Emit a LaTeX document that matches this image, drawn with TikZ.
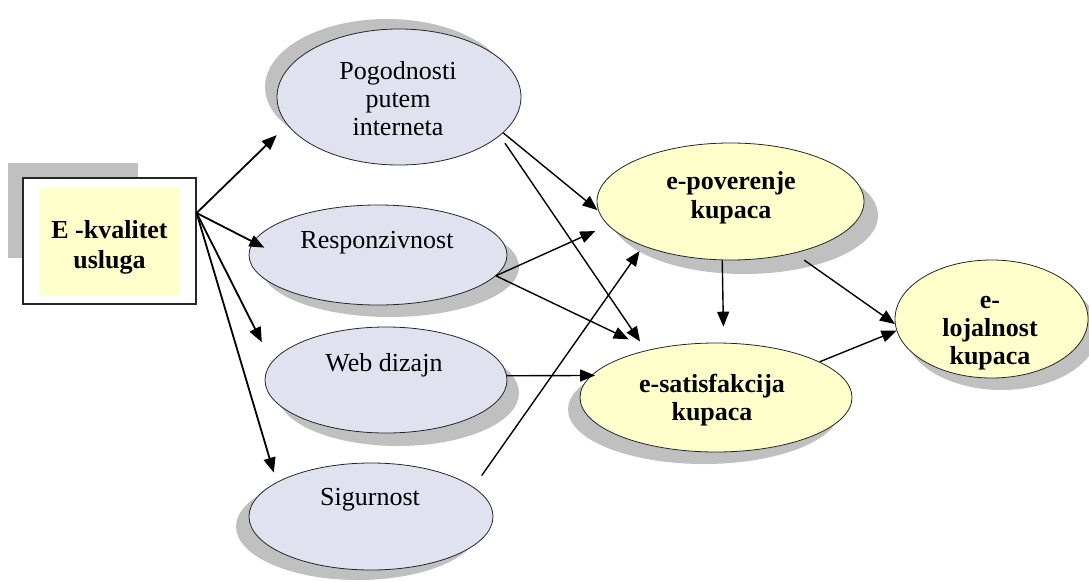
\documentclass[tikz,border=0pt]{standalone}
\usepackage{fontspec}
\setmainfont{Liberation Serif}
\usetikzlibrary{shapes.geometric,arrows.meta,shadows}
\definecolor{lav}{HTML}{E0E2F0}
\definecolor{pale}{HTML}{FFFFCC}
\definecolor{shade}{HTML}{C0C0C0}
\newcommand{\txtlines}[1]{\begin{tabular}[t]{@{}c@{}}#1\end{tabular}}
\tikzset{
  bubble/.style={ellipse, draw=black!85, line width=0.8pt, inner sep=0pt},
  cool/.style={bubble, fill=lav},
  warm/.style={bubble, fill=pale},
  lbl/.style={anchor=base, inner sep=0pt, font=\fontsize{26}{28}\selectfont},
  blbl/.style={anchor=base, inner sep=0pt, font=\fontsize{26}{29}\selectfont\bfseries},
  arrw/.style={-{Triangle[length=15pt,width=12pt]}, line width=1.4pt},
  fan/.style={arrw, line width=1.8pt},
}
\begin{document}
\begin{tikzpicture}[x=1pt,y=-1pt]
\useasboundingbox (0,0) rectangle (1089,581);

% source box with its offset grey backing
\node[fill=shade, minimum width=130pt, minimum height=95pt, inner sep=0pt] (boxback) at (73,210.5) {};
\node[draw=black!85, line width=1.2pt, fill=white, minimum width=173pt, minimum height=126pt, inner sep=0pt] (box) at (109.5,241) {};
\node[fill=pale, minimum width=141pt, minimum height=107pt, inner sep=0pt] (boxfill) at (109.5,241.5) {};
\node[blbl, font=\fontsize{26}{30}\selectfont\bfseries] (boxT) at (109.5,238) {\txtlines{E -kvalitet\\usluga}};
\coordinate (hub) at ([yshift=28pt]box.east);

% dimensions of service quality
\node[cool, minimum width=244pt, minimum height=136pt,
      drop shadow={shadow xshift=-12pt, shadow yshift=10pt, fill=shade, opacity=1}] (pog) at (399,97) {};
\node[cool, minimum width=258pt, minimum height=100pt,
      drop shadow={shadow xshift=12pt, shadow yshift=-12pt, fill=shade, opacity=1}] (resp) at (378,255) {};
\node[cool, minimum width=242pt, minimum height=106pt,
      drop shadow={shadow xshift=12pt, shadow yshift=-13pt, fill=shade, opacity=1}] (web) at (386,380) {};
\node[cool, minimum width=244pt, minimum height=107pt,
      drop shadow={shadow xshift=-13pt, shadow yshift=-10pt, fill=shade, opacity=1}] (sig) at (371,516.5) {};

% customer outcomes
\node[warm, minimum width=267pt, minimum height=117pt,
      drop shadow={shadow xshift=14pt, shadow yshift=-14pt, fill=shade, opacity=1}] (pov) at (730.5,201.5) {};
\node[warm, minimum width=272pt, minimum height=109pt,
      drop shadow={shadow xshift=-12pt, shadow yshift=-12pt, fill=shade, opacity=1}] (sat) at (716,397.5) {};
\node[warm, minimum width=193pt, minimum height=118pt,
      drop shadow={shadow xshift=10pt, shadow yshift=-12pt, fill=shade, opacity=1}] (loy) at (991.5,319) {};

% labels
\node[lbl] (pogT) at (398,79) {\txtlines{Pogodnosti\\putem\\interneta}};
\node[lbl] (respT) at (377,248) {Responzivnost};
\node[lbl] (webT) at (384,371) {Web dizajn};
\node[lbl] (sigT) at (370,505) {Sigurnost};
\node[blbl] (povT) at (731,189) {\txtlines{e-poverenje\\kupaca}};
\node[blbl, font=\fontsize{26}{28}\selectfont\bfseries] (satT) at (712,392) {\txtlines{e-satisfakcija\\kupaca}};
\node[blbl, font=\fontsize{26}{28}\selectfont\bfseries] (loyT) at (990,308) {\txtlines{e-\\lojalnost\\kupaca}};

% fan-out from the source box
\draw[fan, shorten >=14.7pt] (hub) -- (pog.194);
\draw[fan, shorten >=-12.7pt] (hub) -- (resp.174.6);
\draw[fan, shorten >=22pt] (hub) -- (web.171.3);
\draw[fan, shorten >=10pt] (hub) -- (sig.160.3);

% dimensions to trust and satisfaction
\draw[arrw, shorten >=1pt] (pog.-19) -- (pov.184.5);
\draw[arrw, shorten <=9pt, shorten >=10.6pt] (pog.-21) -- (sat.146.3);
\draw[arrw, shorten >=14pt] (resp.-10.8) -- (pov.191.7);
\draw[arrw, shorten >=23.5pt] (resp.-10.8) -- (sat.144.5);
\draw[arrw, shorten >=-4pt] (web.2) -- (sat.170.8);
\draw[arrw, shorten <=14pt, shorten >=6pt] (sig.16.6) -- (pov.207.1);

% trust and satisfaction to loyalty
\draw[arrw, shorten >=16pt] (pov.262.7) -- (sat.82.7);
\draw[arrw, shorten <=12pt] (pov.-39.7) -- (loy.183.6);
\draw[arrw] (sat.19.4) -- (loy.187.6);
\end{tikzpicture}
\end{document}
